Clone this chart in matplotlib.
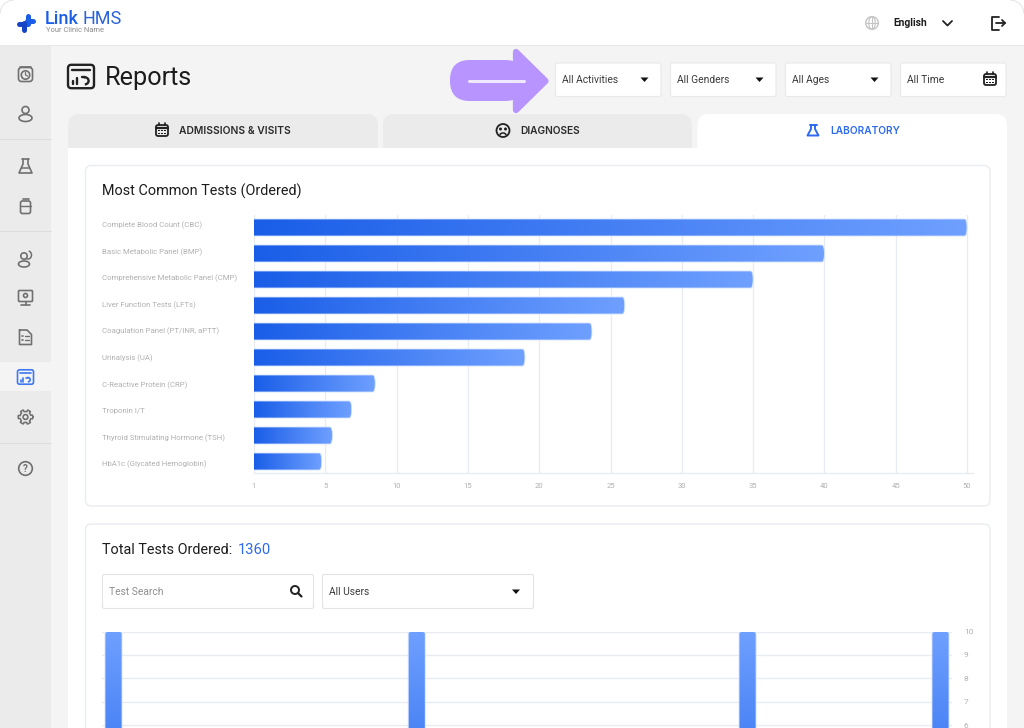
import numpy as np
import matplotlib
matplotlib.use('Agg')
import matplotlib.pyplot as plt
from matplotlib.patches import FancyBboxPatch, Rectangle, Circle, Polygon, Arc
from matplotlib.colors import LinearSegmentedColormap
from matplotlib.transforms import ScaledTranslation

# Data
tests = ['Complete Blood Count (CBC)', 'Basic Metabolic Panel (BMP)',
         'Comprehensive Metabolic Panel (CMP)', 'Liver Function Tests (LFTs)',
         'Coagulation Panel (PT/INR, aPTT)', 'Urinalysis (UA)',
         'C-Reactive Protein (CRP)', 'Troponin I/T',
         'Thyroid Stimulating Hormone (TSH)', 'HbA1c (Glycated Hemoglobin)']
orders = [50, 40, 35, 26, 23.7, 19, 8.5, 6.85, 5.5, 4.75]
order_ticks = [0, 5, 10, 15, 20, 25, 30, 35, 40, 45, 50]
order_tick_labels = ['1', '5', '10', '15', '20', '25', '30', '35', '40', '45', '50']
test_index = [0, 11, 23, 30]
test_counts = [10, 10, 10, 10]
count_ticks = [6, 7, 8, 9, 10]
filters = ['All Activities', 'All Genders', 'All Ages', 'All Time']

W, H = 1024, 728
BLUE = '#1a5ee8'
LIGHT = '#6fa0ff'
ACCENT = '#2f6bed'
GREY = '#707070'
DARK = '#222222'
TICK = '#b0b0b0'
GRID = '#e8ecf1'
plt.rcParams['font.family'] = 'Roboto'
cmap = LinearSegmentedColormap.from_list('bar', [BLUE, LIGHT])

fig = plt.figure(figsize=(W / 100, H / 100), dpi=100, facecolor='white')
ui = fig.add_axes([0, 0, 1, 1])
ui.set_xlim(0, W)
ui.set_ylim(H, 0)
ui.axis('off')


def rbox(x, y, w, h, r, fc='none', ec='none', lw=1, z=2):
    p = FancyBboxPatch((x + r, y + r), w - 2 * r, h - 2 * r, boxstyle=f'round,pad={r},rounding_size={r}',
                       fc=fc, ec=ec, lw=lw, zorder=z)
    ui.add_patch(p)


def rect(x, y, w, h, fc, z=1):
    ui.add_patch(Rectangle((x, y), w, h, fc=fc, ec='none', zorder=z))


def line(xs, ys, c=GREY, lw=1.2, z=6):
    ui.plot(xs, ys, color=c, lw=lw, zorder=z, solid_capstyle='round', solid_joinstyle='round')


def circ(x, y, r, c=GREY, lw=1.2, fc='none', z=6):
    ui.add_patch(Circle((x, y), r, fc=fc, ec=c, lw=lw, zorder=z))


def label(x, y, s, size, c=DARK, ha='left', weight='normal', family='Roboto', z=7):
    ui.text(x, y, s, fontsize=size, color=c, ha=ha, va='center', fontweight=weight, family=family, zorder=z)


def caret(x, y):
    ui.add_patch(Polygon([(x - 4, y - 2), (x + 4, y - 2), (x, y + 2.5)], fc='#111111', ec='none', zorder=6))


def calendar(x, y, c=DARK, s=13):
    rbox(x - s / 2, y - s / 2 + 1, s, s - 1, 2, ec=c, lw=1.3, z=6)
    line([x - s / 2, x + s / 2], [y - 2.5, y - 2.5], c, 1.6)
    line([x - 3, x - 3], [y - s / 2 - 1, y - s / 2 + 1], c, 1.2)
    line([x + 3, x + 3], [y - s / 2 - 1, y - s / 2 + 1], c, 1.2)
    for dx in (-3, 0, 3):
        for dy in (0.5, 3.5):
            rect(x + dx - 0.7, y + dy - 0.7, 1.4, 1.4, c, z=6)


def report(x, y, s, c, lw):
    h = s * 0.9
    rbox(x - s / 2, y - h / 2, s, h, s * 0.13, ec=c, lw=lw, z=6)
    k = s / 24
    line([x - 8 * k, x + 8 * k], [y - 6 * k, y - 6 * k], c, lw)
    line([x - 7.5 * k, x - 7.5 * k], [y + 4 * k, y + 7 * k], c, lw)
    line([x - 4 * k, x - 4 * k], [y + 1 * k, y + 7 * k], c, lw)
    ui.add_patch(Arc((x + 3.5 * k, y + 4 * k), 7 * k, 6.5 * k, theta1=-110, theta2=90, color=c, lw=lw, zorder=6))
    line([x + 0.5 * k, x + 4 * k], [y + 0.8 * k, y + 0.8 * k], c, lw)


# App shell
rect(0, 45, W, H - 45, '#f4f4f4', z=0)
rect(0, 45, 51, H - 45, '#ebebeb', z=1)
rect(0, 362, 51, 29, '#f4f4f4', z=1)
line([0, W], [45, 45], '#e9e9e9', 0.8, z=2)
for sep_y in (139, 231, 443):
    line([0, 51], [sep_y, sep_y], '#dedede', 0.8, z=2)
ui.add_patch(Arc((14, 14), 28, 28, theta1=180, theta2=270, color='#e6e6e6', lw=0.8, zorder=3))
ui.add_patch(Arc((W - 14, 14), 28, 28, theta1=270, theta2=360, color='#e6e6e6', lw=0.8, zorder=3))

# Logo and header
line([19, 27], [23.5, 23.5], '#1544c4', 3.6)
line([28, 28], [16, 24], '#1a5ee8', 3.6)
line([27, 33], [21, 21], '#1a5ee8', 3.6)
line([23.5, 23.5], [23, 30], '#1544c4', 3.6)
label(45, 18.7, 'Link', 13, BLUE, weight='medium')
label(82, 18.7, 'HMS', 13, '#2a62d8')
label(45.5, 30.5, 'Your Clinic Name', 5.4, '#8a8a8a')
label(893, 23, 'English', 7.4, '#1c1c1c', weight='bold')
circ(872, 23, 6.3, '#c4c4c4', 1)
line([865.7, 878.3], [23, 23], '#c4c4c4', 0.8)
line([872, 872], [16.7, 29.3], '#c4c4c4', 0.8)
ui.add_patch(Arc((872, 23), 6.5, 12.6, color='#c4c4c4', lw=0.8, zorder=6))
line([943, 947.5, 952], [21, 25.5, 21], '#222222', 1.3)
line([999, 992, 992, 999], [17, 17, 29.5, 29.5], '#222222', 1.3)
line([996, 1005], [23, 23], '#222222', 1.3)
line([1002, 1005, 1002], [20, 23, 26], '#222222', 1.3)

# Page title
report(81, 76.5, 26, '#222222', 1.7)
label(105, 78, 'Reports', 18.2, '#1c1c1c')

# Arrow pointing at the filters
PURPLE = '#b794ff'
rbox(450, 60, 75, 41, 20, fc=PURPLE, z=3)
ui.add_patch(Polygon([(516, 52), (545.5, 81), (516, 110)], fc=PURPLE, ec=PURPLE, lw=4.5, joinstyle='round', zorder=3))
line([469, 524], [80.5, 80.5], '#efe8ff', 2.2, z=4)

# Filter boxes
for name, box_x in zip(filters, [555.5, 670.5, 785.5, 900.5]):
    rbox(box_x, 63, 105.5, 33.5, 2, fc='white', ec='#e9e9e9', lw=0.8)
    label(box_x + 6.3, 80, name, 7.4, '#3a3a3a')
    if name != 'All Time':
        caret(box_x + 89, 79.5)
calendar(990, 79, '#222222', 12)

# Tabs and panel
rbox(68, 114, 310, 50, 11, fc='#ebebeb')
rbox(383, 114, 309, 50, 11, fc='#ebebeb')
rect(68, 148, 939, H - 148, 'white', z=3)
rbox(697.5, 114, 309.5, 50, 11, fc='white', z=3)
calendar(162, 130, '#222222', 12)
label(179, 131, 'ADMISSIONS & VISITS', 7.4, '#2a2a2a', weight='semibold', family='Inter')
circ(503, 130.5, 6.5, '#222222', 1.3)
circ(500.5, 129, 0.8, '#222222', 1, fc='#222222')
circ(505.5, 129, 0.8, '#222222', 1, fc='#222222')
ui.add_patch(Arc((503, 135), 6, 4, theta1=180, theta2=360, color='#222222', lw=1.1, zorder=6))
label(520, 131, 'DIAGNOSES', 7.3, '#2a2a2a', weight='semibold', family='Inter')
line([811, 811, 807.5, 818.5, 815, 815], [125, 129, 135.5, 135.5, 129, 125], ACCENT, 1.4)
line([809.5, 816.5], [125, 125], ACCENT, 1.4)
label(830.5, 131, 'LABORATORY', 7.3, ACCENT, weight='semibold', family='Inter')

# Cards
rbox(85.5, 165.5, 904.5, 340.5, 6, fc='white', ec='#e9ecf0', lw=1, z=4)
rbox(85.5, 524, 904.5, 300, 6, fc='white', ec='#e9ecf0', lw=1, z=4)
label(102, 191, 'Most Common Tests (Ordered)', 10.4, '#1c1c1c')
label(102, 550, 'Total Tests Ordered:', 10.4, '#1c1c1c')
label(238, 550, '1360', 10.6, ACCENT)
rbox(102.5, 574.5, 211, 34, 2, fc='white', ec='#e4e4e4', lw=0.8, z=5)
rbox(322.5, 574.5, 211, 34, 2, fc='white', ec='#e4e4e4', lw=0.8, z=5)
label(109, 592, 'Test Search', 7.4, '#8e8e8e')
label(329, 592, 'All Users', 7.4, '#3a3a3a')
caret(516, 591.5)
circ(295, 590, 4, '#222222', 1.4)
line([298, 301.5], [593, 596.5], '#222222', 1.6)

# Sidebar icons
rbox(18.5, 67.5, 14, 14, 3, ec=GREY, lw=1.2, z=6)
circ(25.5, 75, 4.2)
line([25.5, 25.5, 27.5], [72.5, 75, 76], GREY, 0.9)
line([20, 31], [66.5, 66.5], GREY, 1.2)
circ(25.5, 110, 3.5)
ui.add_patch(Arc((25.5, 118), 13, 7, color=GREY, lw=1.2, zorder=6))
line([23, 23, 19, 32, 28, 28], [159, 164, 173, 173, 164, 159], GREY, 1.2)
line([22, 29], [159, 159], GREY, 1.2)
line([22, 29], [168, 168], GREY, 1.1)
rbox(20.5, 201, 10, 12.5, 2, ec=GREY, lw=1.2, z=6)
line([22.5, 28.5], [198.5, 198.5], GREY, 1.2)
line([20.5, 30.5], [206, 206], GREY, 1)
circ(24, 256, 3.2)
ui.add_patch(Arc((24, 264), 11, 6, theta1=0, theta2=360, color=GREY, lw=1.2, zorder=6))
ui.add_patch(Arc((28, 255), 7, 8, theta1=-80, theta2=120, color=GREY, lw=1.1, zorder=6))
rbox(18.5, 290.5, 14, 11, 1, ec=GREY, lw=1.2, z=6)
circ(25.5, 295.5, 2)
line([25.5, 25.5], [301.5, 304.5], GREY, 1.2)
line([21, 30], [304.5, 304.5], GREY, 1.2)
line([19.5, 27, 31.5, 31.5, 19.5, 19.5], [330, 330, 334.5, 344.5, 344.5, 330], GREY, 1.2)
line([25, 29], [336, 336], GREY, 1)
line([25, 29], [340, 340], GREY, 1)
line([22, 23], [336, 336], GREY, 1.2)
line([22, 23], [340, 340], GREY, 1.2)
report(25.5, 377, 16, '#3f78ef', 1.2)
# gear outline
gear_a = np.linspace(0, 2 * np.pi, 145)
gear_r = 6.4 + 0.9 * np.sign(np.cos(gear_a * 6))
ui.plot(25.5 + gear_r * np.cos(gear_a), 417 + gear_r * np.sin(gear_a), color=GREY, lw=1.1, zorder=6,
        solid_joinstyle='round')
circ(25.5, 417, 2.4)
circ(25.5, 468.5, 6.8)
label(25.5, 468.5, '?', 7, GREY, ha='center', weight='bold')


def chart_axes(x0, y0, x1, y1):
    ax = fig.add_axes([x0 / W, 1 - y1 / H, (x1 - x0) / W, (y1 - y0) / H], facecolor='none', zorder=5)
    for side in ax.spines:
        ax.spines[side].set_visible(False)
    ax.tick_params(length=0, labelcolor=TICK)
    return ax


def gradient_bar(ax, bar, grad, px_x, px_y, radius=2.5, extend=0):
    # px_x / px_y are pixels per data unit, used to keep the corners round
    # extend pushes the start of the outline behind the axis so that end stays square
    x, y, w, h = bar.get_x(), bar.get_y(), bar.get_width(), bar.get_height()
    im = ax.imshow(grad, extent=[x, x + w, y + h, y], aspect='auto', cmap=cmap, vmin=0, vmax=1, zorder=3)
    r = radius / px_x
    asp = px_x / px_y
    clip = FancyBboxPatch((x + r - extend, y + r / asp), w - 2 * r + extend, h - 2 * r / asp,
                          boxstyle=f'round,pad={r},rounding_size={r}', mutation_aspect=1 / asp,
                          fc='none', ec='#d3e2ff', lw=0.6, zorder=4)
    ax.add_patch(clip)
    im.set_clip_path(clip)


# Horizontal chart
top = chart_axes(254, 214.5, 973, 473)
px_x = 713 / 50
y_pos = np.arange(len(tests))
bars = top.barh(y_pos, orders, height=17 / 26, color='none', zorder=1)
for bar in bars:
    gradient_bar(top, bar, np.linspace(0, 1, 256).reshape(1, -1), px_x, 26, extend=0.5)
top.set_xlim(0, 719 / px_x)
top.set_ylim((473 - 227.5) / 26, -0.5)
top.set_xticks(order_ticks, order_tick_labels)
top.set_yticks(y_pos, tests)
top.set_axisbelow(True)
top.grid(axis='x', color=GRID, lw=0.9)
top.spines['bottom'].set_visible(True)
top.spines['bottom'].set_color(GRID)
top.spines['bottom'].set_linewidth(1)
top.tick_params(axis='x', pad=7, labelsize=5.5)
top.tick_params(axis='y', pad=0, labelsize=5.55)
# the labels sit on a slightly wider spacing than the bars (26.6 px against 26 px)
for i, lab in enumerate(top.get_yticklabels()):
    lab.set_ha('left')
    lab.set_x(-152 / 719)
    shift = (3.2 - 0.6 * i) / 100
    lab.set_transform(lab.get_transform() + ScaledTranslation(0, shift, fig.dpi_scale_trans))

# Vertical chart, cut off by the bottom of the page
low = chart_axes(102, 631.5, 952, H)
px_b = 827 / 30
vbars = low.bar(test_index, test_counts, width=17 / px_b, color='none', zorder=1)
for bar in vbars:
    gradient_bar(low, bar, np.linspace(0, 1, 256).reshape(-1, 1), px_b, 23.4, radius=3)
low.set_xlim((102 - 113.5) / px_b, (952 - 113.5) / px_b)
low.set_ylim(10 - (H - 631.5) / 23.4, 10)
low.set_xticks([])
low.set_yticks(count_ticks)
low.yaxis.tick_right()
low.tick_params(axis='y', pad=8.5, labelsize=6, labelcolor=TICK)
low.set_axisbelow(True)
low.grid(axis='y', color=GRID, lw=1)

fig.savefig('out.png', dpi=100)
